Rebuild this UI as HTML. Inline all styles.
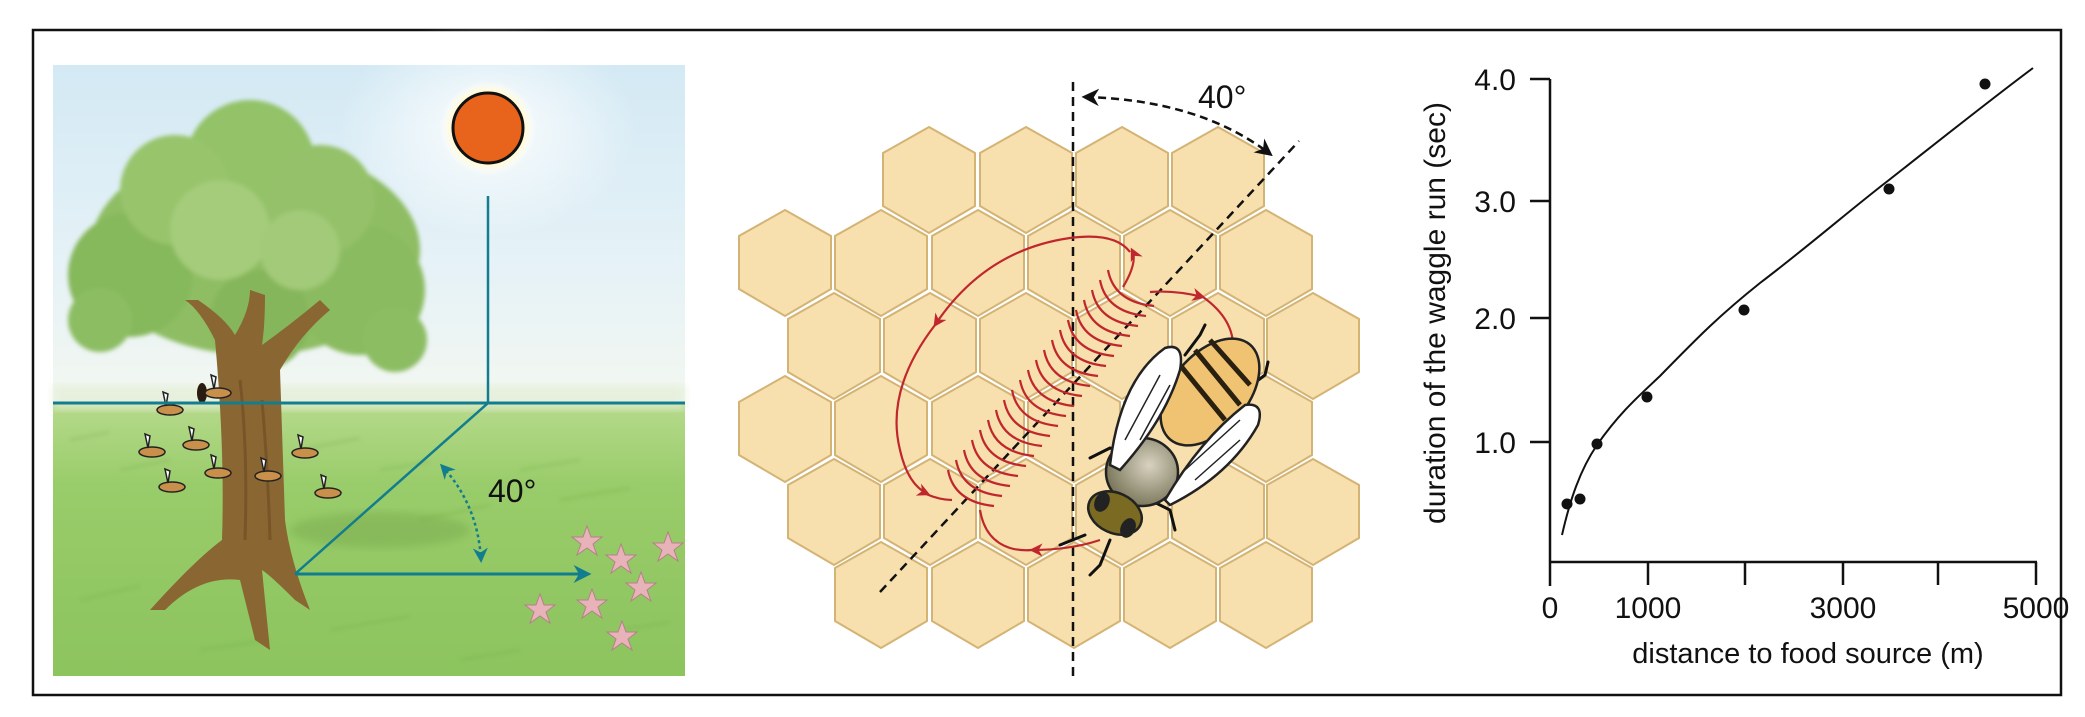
<!DOCTYPE html>
<html><head><meta charset="utf-8"><style>
html,body{margin:0;padding:0;background:#fff;}
svg{display:block;}
text{font-family:"Liberation Sans",Arial,sans-serif;}
</style></head><body>
<svg width="2085" height="717" viewBox="0 0 2085 717" xmlns="http://www.w3.org/2000/svg">
<defs>
<linearGradient id="sky" x1="0" y1="0" x2="0" y2="1">
<stop offset="0" stop-color="#d3e9f4"/><stop offset="0.6" stop-color="#e6f2f7"/><stop offset="1" stop-color="#f3f7f0"/>
</linearGradient>
<radialGradient id="sunglow" cx="0.5" cy="0.5" r="0.5">
<stop offset="0.6" stop-color="#fff6c0"/><stop offset="0.8" stop-color="#fffbe0"/><stop offset="1" stop-color="#ffffff" stop-opacity="0"/>
</radialGradient>
<radialGradient id="glowbig" cx="0.5" cy="0.5" r="0.5">
<stop offset="0" stop-color="#ffffff" stop-opacity="0.9"/><stop offset="1" stop-color="#ffffff" stop-opacity="0"/>
</radialGradient>
<linearGradient id="grass" x1="0" y1="0" x2="0" y2="1">
<stop offset="0" stop-color="#b6da8c"/><stop offset="0.3" stop-color="#99cc6a"/><stop offset="1" stop-color="#8cc45e"/>
</linearGradient>
<filter id="blur4"><feGaussianBlur stdDeviation="4"/></filter>
<filter id="blur2"><feGaussianBlur stdDeviation="2"/></filter>
<radialGradient id="thor" cx="0.6" cy="0.4" r="0.6"><stop offset="0" stop-color="#d8d2c0"/><stop offset="1" stop-color="#7d7a5e"/></radialGradient>
<marker id="ra" viewBox="0 0 10 10" refX="8" refY="5" markerWidth="6" markerHeight="6" orient="auto"><path d="M0,0 L10,5 L0,10 L3,5z" fill="#c0272d"/></marker>
<marker id="ka" viewBox="0 0 10 10" refX="8" refY="5" markerWidth="7" markerHeight="7" orient="auto-start-reverse"><path d="M0,0 L10,5 L0,10 L3,5z" fill="#111"/></marker>
<marker id="ta" viewBox="0 0 10 10" refX="8" refY="5" markerWidth="6" markerHeight="6" orient="auto-start-reverse"><path d="M0,0 L10,5 L0,10 L3,5z" fill="#127d8e"/></marker>
</defs>
<rect width="2085" height="717" fill="#fff"/>
<rect x="33" y="30" width="2028" height="665" fill="none" stroke="#111" stroke-width="2.5"/>

<!-- LEFT PANEL -->
<g>
<rect x="53" y="65" width="632" height="340" fill="url(#sky)"/>
<ellipse cx="488" cy="128" rx="150" ry="110" fill="url(#glowbig)"/>
<rect x="53" y="403" width="632" height="273" fill="url(#grass)"/>
<rect x="53" y="385" width="632" height="25" fill="#e3eed6" opacity="0.7" filter="url(#blur4)"/>
<g opacity="0.35" stroke="#6aa640" stroke-width="2" filter="url(#blur2)">
<path d="M70 440 l40 -8 M120 470 l50 -10 M300 450 l60 -12 M420 520 l70 -15 M520 470 l60 -10 M80 600 l60 -14 M330 630 l80 -14 M460 660 l60 -10 M560 500 l70 -12 M620 630 l50 -8 M200 650 l70 -10 M380 470 l50 -8"/>
</g>
<ellipse cx="380" cy="530" rx="90" ry="18" fill="#6f9f45" opacity="0.35" filter="url(#blur4)"/>
<!-- tree canopy -->
<g filter="url(#blur2)">
<ellipse cx="255" cy="250" rx="165" ry="105" fill="#8ebd63"/>
<circle cx="130" cy="275" r="62" fill="#86b85c"/>
<circle cx="360" cy="290" r="65" fill="#8bbb60"/>
<circle cx="250" cy="165" r="65" fill="#93c268"/>
<circle cx="175" cy="190" r="55" fill="#98c46c"/>
<circle cx="320" cy="200" r="55" fill="#94c169"/>
<circle cx="260" cy="320" r="50" fill="#86b65b"/>
<circle cx="100" cy="320" r="32" fill="#8cbd63"/>
<circle cx="395" cy="340" r="32" fill="#8cbd63"/>
<circle cx="220" cy="230" r="50" fill="#a4cc7a"/>
<circle cx="300" cy="250" r="40" fill="#a2ca78"/>
</g>
<!-- trunk -->
<path d="M215 340 Q200 310 185 300 L198 300 Q225 318 235 335 Q250 310 250 290 L265 295 Q265 325 262 345 Q290 325 320 300 L330 310 Q300 335 280 370 L285 520 Q290 560 310 610 L295 600 Q270 575 262 570 L270 650 L255 640 Q245 600 240 580 Q200 575 165 610 L150 610 Q195 560 222 540 Q225 450 215 340Z" fill="#8a6632"/>
<path d="M240 380 Q248 450 245 540 M262 400 Q268 470 270 540" stroke="#6a4a22" stroke-width="3" fill="none" opacity="0.6"/>
<ellipse cx="202" cy="393" rx="5" ry="10" fill="#2a1a10"/>
<!-- bees -->
<g fill="#c8904a" stroke="#222" stroke-width="1.5">
<g transform="translate(170,410)"><ellipse rx="13" ry="5"/><path d="M-4 -4 l-3 -14 l5 2z" fill="#fff"/></g>
<g transform="translate(218,393)"><ellipse rx="13" ry="5"/><path d="M-4 -4 l-3 -14 l5 2z" fill="#fff"/></g>
<g transform="translate(152,452)"><ellipse rx="13" ry="5"/><path d="M-4 -4 l-3 -14 l5 2z" fill="#fff"/></g>
<g transform="translate(196,445)"><ellipse rx="13" ry="5"/><path d="M-4 -4 l-3 -14 l5 2z" fill="#fff"/></g>
<g transform="translate(218,473)"><ellipse rx="13" ry="5"/><path d="M-4 -4 l-3 -14 l5 2z" fill="#fff"/></g>
<g transform="translate(172,487)"><ellipse rx="13" ry="5"/><path d="M-4 -4 l-3 -14 l5 2z" fill="#fff"/></g>
<g transform="translate(268,476)"><ellipse rx="13" ry="5"/><path d="M-4 -4 l-3 -14 l5 2z" fill="#fff"/></g>
<g transform="translate(305,453)"><ellipse rx="13" ry="5"/><path d="M-4 -4 l-3 -14 l5 2z" fill="#fff"/></g>
<g transform="translate(328,493)"><ellipse rx="13" ry="5"/><path d="M-4 -4 l-3 -14 l5 2z" fill="#fff"/></g>
</g>
<!-- flowers -->
<g fill="#e8b3b8" stroke="#b58088" stroke-width="1">
<g transform="translate(587,542)"><path d="M0 -16 L4 -5 L15 -5 L6 2 L10 13 L0 6 L-10 13 L-6 2 L-15 -5 L-4 -5Z"/></g>
<g transform="translate(621,560)"><path d="M0 -16 L4 -5 L15 -5 L6 2 L10 13 L0 6 L-10 13 L-6 2 L-15 -5 L-4 -5Z"/></g>
<g transform="translate(668,548)"><path d="M0 -16 L4 -5 L15 -5 L6 2 L10 13 L0 6 L-10 13 L-6 2 L-15 -5 L-4 -5Z"/></g>
<g transform="translate(641,588)"><path d="M0 -16 L4 -5 L15 -5 L6 2 L10 13 L0 6 L-10 13 L-6 2 L-15 -5 L-4 -5Z"/></g>
<g transform="translate(592,605)"><path d="M0 -16 L4 -5 L15 -5 L6 2 L10 13 L0 6 L-10 13 L-6 2 L-15 -5 L-4 -5Z"/></g>
<g transform="translate(540,610)"><path d="M0 -16 L4 -5 L15 -5 L6 2 L10 13 L0 6 L-10 13 L-6 2 L-15 -5 L-4 -5Z"/></g>
<g transform="translate(622,637)"><path d="M0 -16 L4 -5 L15 -5 L6 2 L10 13 L0 6 L-10 13 L-6 2 L-15 -5 L-4 -5Z"/></g>
</g>
<!-- sun -->
<circle cx="488" cy="128" r="48" fill="url(#sunglow)"/>
<circle cx="488" cy="128" r="35" fill="#e8641c" stroke="#111" stroke-width="3"/>
<!-- teal lines -->
<line x1="53" y1="403" x2="685" y2="403" stroke="#127d8e" stroke-width="3"/>
<polyline points="488,196 488,403 295,574" fill="none" stroke="#127d8e" stroke-width="2.5"/>
<line x1="295" y1="574" x2="588" y2="574" stroke="#127d8e" stroke-width="3" marker-end="url(#ta)"/>
<path d="M442 466 Q478 505 481 560" fill="none" stroke="#127d8e" stroke-width="2.5" stroke-dasharray="3,3" marker-start="url(#ta)" marker-end="url(#ta)"/>
<text x="488" y="502" font-size="32" fill="#111">40°</text>
</g>

<!-- MIDDLE PANEL -->
<g fill="#f7dfae" stroke="#d4b474" stroke-width="2">
<path d="M929 127 L975 153 L975 206 L929 233 L883 206 L883 153Z"/>
<path d="M1026 127 L1072 153 L1072 206 L1026 233 L980 206 L980 153Z"/>
<path d="M1122 127 L1168 153 L1168 206 L1122 233 L1076 206 L1076 153Z"/>
<path d="M1218 127 L1264 153 L1264 206 L1218 233 L1172 206 L1172 153Z"/>

<path d="M785 210 L831 236 L831 289 L785 316 L739 289 L739 236Z"/>
<path d="M881 210 L927 236 L927 289 L881 316 L835 289 L835 236Z"/>
<path d="M978 210 L1024 236 L1024 289 L978 316 L932 289 L932 236Z"/>
<path d="M1074 210 L1120 236 L1120 289 L1074 316 L1028 289 L1028 236Z"/>
<path d="M1170 210 L1216 236 L1216 289 L1170 316 L1124 289 L1124 236Z"/>
<path d="M1266 210 L1312 236 L1312 289 L1266 316 L1220 289 L1220 236Z"/>

<path d="M834 293 L880 319 L880 372 L834 399 L788 372 L788 319Z"/>
<path d="M930 293 L976 319 L976 372 L930 399 L884 372 L884 319Z"/>
<path d="M1026 293 L1072 319 L1072 372 L1026 399 L980 372 L980 319Z"/>
<path d="M1122 293 L1168 319 L1168 372 L1122 399 L1076 372 L1076 319Z"/>
<path d="M1218 293 L1264 319 L1264 372 L1218 399 L1172 372 L1172 319Z"/>
<path d="M1313 293 L1359 319 L1359 372 L1313 399 L1267 372 L1267 319Z"/>

<path d="M785 376 L831 402 L831 455 L785 482 L739 455 L739 402Z"/>
<path d="M881 376 L927 402 L927 455 L881 482 L835 455 L835 402Z"/>
<path d="M978 376 L1024 402 L1024 455 L978 482 L932 455 L932 402Z"/>
<path d="M1074 376 L1120 402 L1120 455 L1074 482 L1028 455 L1028 402Z"/>
<path d="M1170 376 L1216 402 L1216 455 L1170 482 L1124 455 L1124 402Z"/>
<path d="M1266 376 L1312 402 L1312 455 L1266 482 L1220 455 L1220 402Z"/>

<path d="M834 459 L880 485 L880 538 L834 565 L788 538 L788 485Z"/>
<path d="M930 459 L976 485 L976 538 L930 565 L884 538 L884 485Z"/>
<path d="M1026 459 L1072 485 L1072 538 L1026 565 L980 538 L980 485Z"/>
<path d="M1122 459 L1168 485 L1168 538 L1122 565 L1076 538 L1076 485Z"/>
<path d="M1218 459 L1264 485 L1264 538 L1218 565 L1172 538 L1172 485Z"/>
<path d="M1313 459 L1359 485 L1359 538 L1313 565 L1267 538 L1267 485Z"/>

<path d="M881 542 L927 568 L927 621 L881 648 L835 621 L835 568Z"/>
<path d="M978 542 L1024 568 L1024 621 L978 648 L932 621 L932 568Z"/>
<path d="M1074 542 L1120 568 L1120 621 L1074 648 L1028 621 L1028 568Z"/>
<path d="M1170 542 L1216 568 L1216 621 L1170 648 L1124 621 L1124 568Z"/>
<path d="M1266 542 L1312 568 L1312 621 L1266 648 L1220 621 L1220 568Z"/>
</g>

<!-- dashed lines -->
<line x1="1073" y1="82" x2="1073" y2="682" stroke="#111" stroke-width="2.5" stroke-dasharray="9,6"/>
<line x1="880" y1="592" x2="1299" y2="141" stroke="#111" stroke-width="2.5" stroke-dasharray="9,6"/>
<path d="M1085 97 Q1200 100 1270 154" fill="none" stroke="#111" stroke-width="2.5" stroke-dasharray="8,5" marker-start="url(#ka)" marker-end="url(#ka)"/>
<text x="1198" y="108" font-size="32" fill="#111">40°</text>

<!-- red loops -->
<g fill="none" stroke="#c0272d" stroke-width="2.2">
<path d="M1123 287 Q1138 262 1132 250" marker-end="url(#ra)"/>
<path d="M1130 252 Q1115 232 1070 238 Q985 250 935 325" marker-end="url(#ra)"/>
<path d="M935 325 Q885 390 900 450 Q908 485 928 494" marker-end="url(#ra)"/>
<path d="M926 494 Q940 500 952 500"/>
<path d="M1150 292 Q1175 290 1203 297" marker-end="url(#ra)"/>
<path d="M1203 297 Q1235 320 1233 350"/>
<path d="M980 510 Q985 540 1010 548 Q1020 551 1032 550" />
<path d="M1100 540 Q1070 550 1032 550" marker-end="url(#ra)"/>
</g>
<!-- waggle chevrons -->
<g fill="none" stroke="#c0272d" stroke-width="2.2">
<path d="M948 470 Q954 502 994 506"/>
<path d="M956 460 Q962 492 1002 496"/>
<path d="M964 450 Q970 482 1010 486"/>
<path d="M972 440 Q978 472 1018 476"/>
<path d="M980 430 Q986 462 1026 466"/>
<path d="M988 420 Q994 452 1034 456"/>
<path d="M996 410 Q1002 442 1042 446"/>
<path d="M1004 400 Q1010 432 1050 436"/>
<path d="M1012 390 Q1018 422 1058 426"/>
<path d="M1020 380 Q1026 412 1066 416"/>
<path d="M1028 370 Q1034 402 1074 406"/>
<path d="M1036 360 Q1042 392 1082 396"/>
<path d="M1044 350 Q1050 382 1090 386"/>
<path d="M1052 340 Q1058 372 1098 376"/>
<path d="M1060 330 Q1066 362 1106 366"/>
<path d="M1068 320 Q1074 352 1114 356"/>
<path d="M1076 310 Q1082 342 1122 346"/>
<path d="M1084 300 Q1090 332 1130 336"/>
<path d="M1092 290 Q1098 322 1138 326"/>
<path d="M1100 280 Q1106 312 1146 316"/>
<path d="M1108 270 Q1114 302 1154 306"/>
</g>

<!-- bee -->
<g stroke="#111" stroke-width="3" stroke-linecap="round" fill="none">
<path d="M1085 535 L1060 545 M1110 540 L1100 565 L1090 575 M1128 520 L1140 495 M1150 500 L1170 510 L1175 530 M1135 455 L1110 448 L1090 458 M1185 355 L1200 335 L1205 325 M1245 390 L1265 375 L1268 362"/>
</g>
<g stroke="#222" stroke-width="2.5">
<ellipse cx="1210" cy="392" rx="38" ry="62" transform="rotate(40 1210 392)" fill="#f0c372"/>
<path d="M1180 365 L1225 420 M1195 350 L1240 405 M1210 340 L1250 385" stroke="#2a2010" stroke-width="5"/>
<ellipse cx="1142" cy="472" rx="36" ry="34" fill="url(#thor)"/>
<ellipse cx="1115" cy="513" rx="28" ry="20" transform="rotate(25 1115 513)" fill="#7a6a22"/>
<ellipse cx="1102" cy="502" rx="6" ry="9" fill="#222" transform="rotate(25 1102 502)"/>
<ellipse cx="1128" cy="528" rx="6" ry="9" fill="#222" transform="rotate(25 1128 528)"/>
<path d="M1110 465 Q1120 380 1165 348 Q1185 342 1180 370 Q1165 420 1120 470Z" fill="#fff"/>
<path d="M1165 500 Q1200 440 1245 405 Q1265 402 1258 425 Q1230 475 1170 505Z" fill="#fff"/>
<path d="M1125 440 L1160 375 M1140 440 L1170 385 M1185 470 L1240 420 M1195 480 L1240 440" stroke-width="1.5"/>
</g>

<!-- RIGHT PANEL: graph -->
<g stroke="#111" stroke-width="2.5" fill="none">
<line x1="1550" y1="79" x2="1550" y2="586"/>
<line x1="1550" y1="562" x2="2037" y2="562"/>
<line x1="1530" y1="79" x2="1550" y2="79"/>
<line x1="1530" y1="201" x2="1550" y2="201"/>
<line x1="1530" y1="318" x2="1550" y2="318"/>
<line x1="1530" y1="442" x2="1550" y2="442"/>
<line x1="1648" y1="562" x2="1648" y2="585"/>
<line x1="1745" y1="562" x2="1745" y2="585"/>
<line x1="1843" y1="562" x2="1843" y2="585"/>
<line x1="1938" y1="562" x2="1938" y2="585"/>
<line x1="2036" y1="562" x2="2036" y2="585"/>
<path d="M1562 535 C1570 500 1580 470 1597 445 C1620 412 1640 395 1660 376 C1700 335 1720 315 1760 283 C1810 245 1850 210 1889 180 C1940 140 1990 100 2033 68" stroke-width="2"/>
</g>
<g fill="#111">
<circle cx="1567" cy="504" r="5.5"/><circle cx="1580" cy="499" r="5.5"/><circle cx="1597" cy="444" r="5.5"/>
<circle cx="1647" cy="397" r="5.5"/><circle cx="1744" cy="310" r="5.5"/><circle cx="1889" cy="189" r="5.5"/><circle cx="1985" cy="84" r="5.5"/>
</g>
<g font-size="30" fill="#111" text-anchor="end">
<text x="1516" y="90">4.0</text><text x="1516" y="212">3.0</text><text x="1516" y="329">2.0</text><text x="1516" y="453">1.0</text>
</g>
<g font-size="30" fill="#111" text-anchor="middle">
<text x="1550" y="618">0</text><text x="1648" y="618">1000</text><text x="1843" y="618">3000</text><text x="2036" y="618">5000</text>
<text x="1808" y="663" font-size="29">distance to food source (m)</text>
<text transform="translate(1445 313) rotate(-90)" font-size="30">duration of the waggle run (sec)</text>
</g>
</svg>
</body></html>
